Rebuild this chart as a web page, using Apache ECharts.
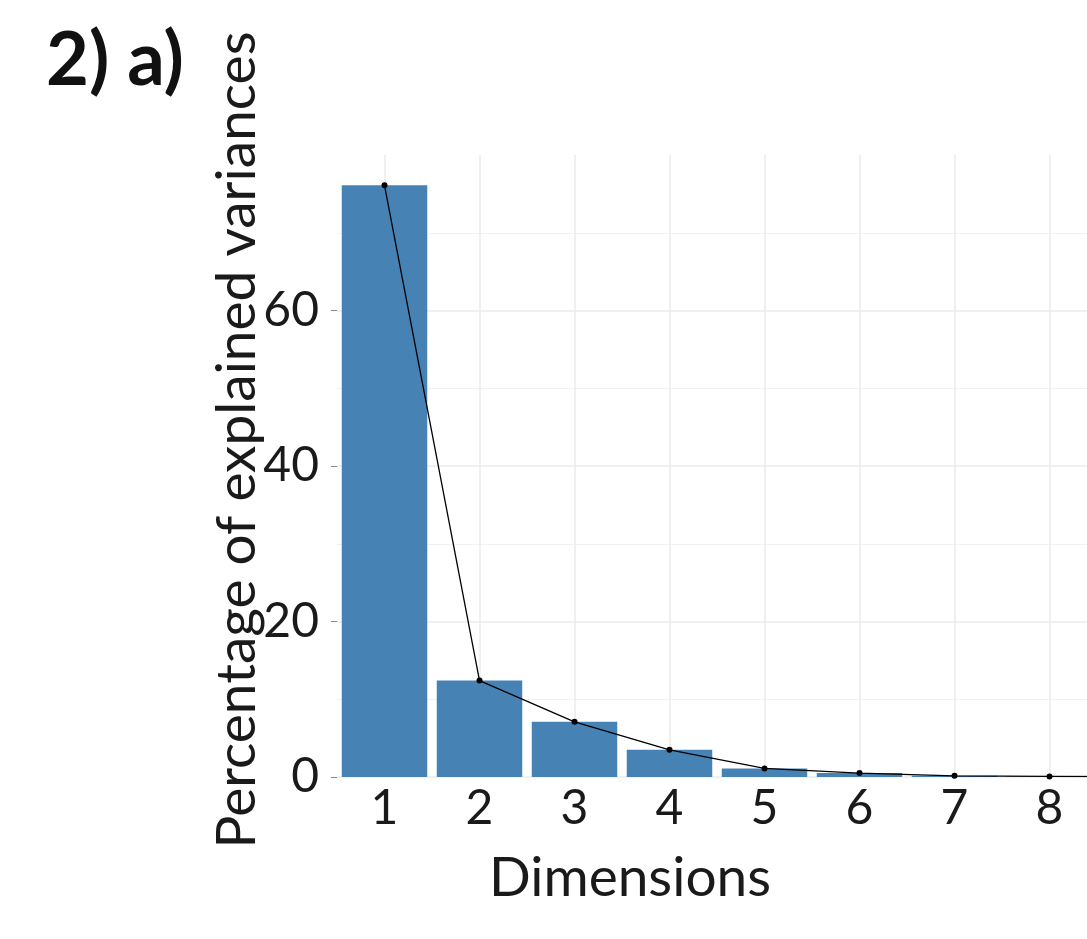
<!DOCTYPE html>
<html>
<head>
<meta charset="utf-8">
<title>Scree plot</title>
<script src="https://cdn.jsdelivr.net/npm/echarts@6/dist/echarts.min.js"></script>
<style>
  html, body { margin: 0; padding: 0; background: #fff; overflow: hidden; }
  /* wider than the window: the plot runs on past the right edge */
  #scree { width: 1250px; height: 939px; }
</style>
</head>
<body>
<div id="scree"></div>
<script>
  // dimensions shown on the x axis (9th is cut off at the right edge)
  const dims = ['1', '2', '3', '4', '5', '6', '7', '8', '9'];
  // percentage of explained variance per dimension
  const variances = [76.1, 12.4, 7.1, 3.5, 1.1, 0.5, 0.15, 0.08, 0.05];
  const yTicks = [0, 20, 40, 60];

  const font = 'Lato, "Open Sans", sans-serif';
  const gridColor = '#ebebeb';

  let chart = echarts.init(document.getElementById('scree'));
  chart.setOption({
    animation: false,
    grid: {
      left: 337,
      top: 155,
      bottom: 162,
      width: 95 * dims.length
    },
    graphic: [
      {
        type: 'text',
        left: 46,
        top: 24,
        style: { text: '2) a)', font: 'bold 74px ' + font, fill: '#111' }
      },
      {
        type: 'text',
        x: 630,
        y: 878,
        style: {
          text: 'Dimensions', font: '55px ' + font, fill: '#1a1a1a',
          align: 'center', verticalAlign: 'middle'
        }
      },
      {
        type: 'text',
        x: 237,
        y: 440,
        rotation: Math.PI / 2,
        style: {
          text: 'Percentage of explained variances', font: '55px ' + font, fill: '#1a1a1a',
          align: 'center', verticalAlign: 'middle'
        }
      }
    ],
    xAxis: {
      type: 'category',
      data: dims,
      boundaryGap: true,
      axisLine: { show: false },
      axisTick: { show: false },
      axisLabel: { margin: 8, fontSize: 48, fontFamily: font, color: '#1a1a1a' },
      splitLine: { show: true, alignWithLabel: true, lineStyle: { color: gridColor, width: 1.5 } }
    },
    yAxis: {
      type: 'value',
      min: 0,
      max: 80,
      interval: 20,
      axisLine: { show: false },
      axisTick: { show: true, length: 6, lineStyle: { color: '#888' } },
      axisLabel: {
        margin: 18, fontSize: 48, fontFamily: font, color: '#1a1a1a',
        showMaxLabel: false,
        formatter: v => (yTicks.includes(v) ? String(v) : '')
      },
      splitLine: { show: true, showMaxLine: false, lineStyle: { color: gridColor, width: 1.5 } },
      minorTick: { show: false, splitNumber: 2 },
      minorSplitLine: { show: true, lineStyle: { color: '#f2f2f2', width: 1.2 } }
    },
    series: [
      {
        type: 'bar',
        data: variances,
        barWidth: '90%',
        itemStyle: { color: '#4682B4' }
      },
      {
        type: 'line',
        data: variances,
        symbol: 'circle',
        symbolSize: 6,
        itemStyle: { color: '#000' },
        lineStyle: { color: '#000', width: 1.3 },
        z: 5
      }
    ]
  });
</script>
</body>
</html>
